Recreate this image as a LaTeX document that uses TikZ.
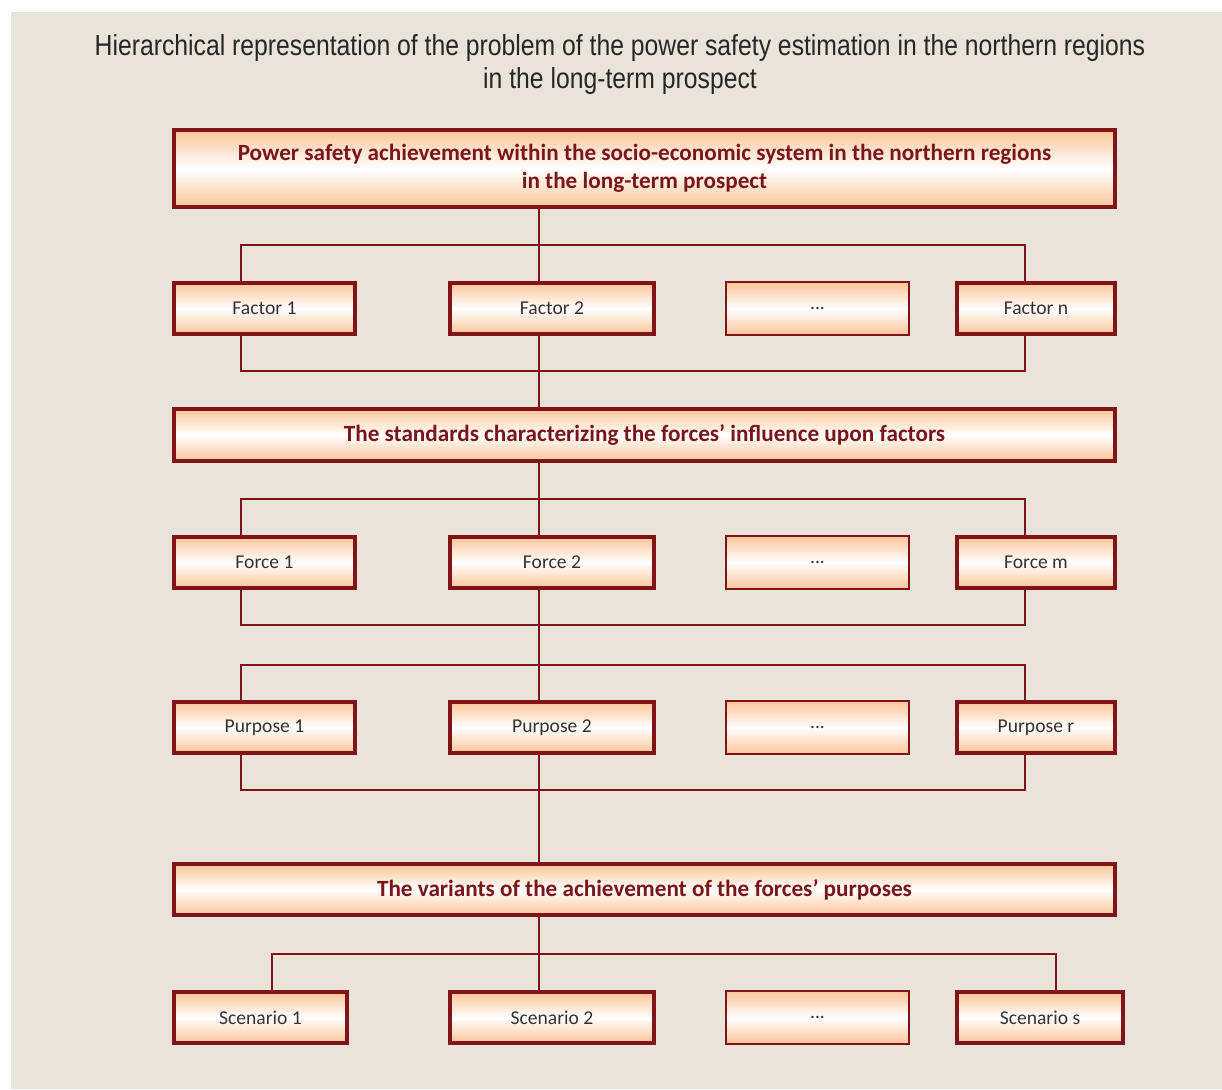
\documentclass[tikz,border=0pt]{standalone}
\usepackage{fontspec}
\setmainfont{Carlito}
\newfontfamily\headfont[FakeStretch=0.853]{Liberation Sans}
\usepackage{xcolor}
\definecolor{frame}{RGB}{128,20,24}
\definecolor{peach}{RGB}{251,196,152}
\definecolor{panel}{RGB}{234,227,218}
\definecolor{ink}{RGB}{51,51,51}
\definecolor{headred}{RGB}{122,22,26}

\begin{document}
\begin{tikzpicture}[x=0.5pt,y=-0.5pt,
  box/.style={draw=frame,line width=2pt,top color=peach,bottom color=peach,
              middle color=white,inner sep=0pt,text=ink,
              font=\fontsize{9.8}{12}\selectfont,minimum height=25.5pt},
  dots/.style={box,line width=1pt,minimum width=91.5pt,minimum height=26.5pt},
  wide/.style={box,minimum width=470.5pt,align=center,text=headred,
               font=\bfseries\fontsize{11.6}{14}\selectfont},
  title/.style={align=center,text=black!85,
                font=\headfont\fontsize{14.5}{16.5}\selectfont},
  link/.style={draw=frame,line width=0.8pt}]
  \useasboundingbox (0,0) rectangle (1222,1089);
  \fill[white] (0,0) rectangle (1222,1089);
  \fill[panel] (11,12) rectangle (1222,1089);

  \node[title] (head) at (620,64.5) {Hierarchical representation of the problem of the power safety estimation in the northern regions\\in the long-term prospect};

  % goal
  \node[wide,minimum height=38.5pt] (goal) at (644.5,168.5) {Power safety achievement within the socio-economic system in the northern regions\\in the long-term prospect};

  % factors
  \node[box,minimum width=90.5pt] (f1) at (264.5,308.5) {Factor 1};
  \node[box,minimum width=102pt]  (f2) at (552,308.5)   {Factor 2};
  \node[dots]                     (fd) at (817.5,308.5) {...};
  \node[box,minimum width=79pt]   (fn) at (1036,308.5)  {Factor n};

  \node[wide,minimum height=26pt] (std) at (644.5,435) {The standards characterizing the forces’ influence upon factors};

  % forces
  \node[box,minimum width=90.5pt] (fo1) at (264.5,562.5) {Force 1};
  \node[box,minimum width=102pt]  (fo2) at (552,562.5)   {Force 2};
  \node[dots]                     (fod) at (817.5,562.5) {...};
  \node[box,minimum width=79pt]   (fom) at (1036,562.5)  {Force m};

  % purposes
  \node[box,minimum width=90.5pt] (p1) at (264.5,727.5) {Purpose 1};
  \node[box,minimum width=102pt]  (p2) at (552,727.5)   {Purpose 2};
  \node[dots]                     (pd) at (817.5,727.5) {...};
  \node[box,minimum width=79pt]   (pr) at (1036,727.5)  {Purpose r};

  \node[wide,minimum height=25.5pt] (var) at (644.5,889.5) {The variants of the achievement of the forces’ purposes};

  % scenarios
  \node[box,minimum width=86.5pt] (s1) at (260.5,1017.5) {Scenario 1};
  \node[box,minimum width=102pt]  (s2) at (552,1017.5)   {Scenario 2};
  \node[dots]                     (sd) at (817.5,1017.5) {...};
  \node[box,minimum width=83pt]   (ss) at (1040,1017.5)  {Scenario s};

  \coordinate (spine) at (539,0);
  \coordinate (lcol) at (241,0);
  \coordinate (rcol) at (1025,0);
  \coordinate (lcol2) at (272,0);
  \coordinate (rcol2) at (1056,0);

  \draw[link] (goal.south -| spine) -- (f2.north -| spine);
  \draw[link] (f1.north -| lcol) -- ++(0,-36) -| (fn.north -| rcol);
  \draw[link] (f1.south -| lcol) -- ++(0,35) -| (fn.south -| rcol);
  \draw[link] (f2.south -| spine) -- (std.north -| spine);
  \draw[link] (std.south -| spine) -- (fo2.north -| spine);
  \draw[link] (fo1.north -| lcol) -- ++(0,-36) -| (fom.north -| rcol);
  \draw[link] (fo1.south -| lcol) -- ++(0,35) -| (fom.south -| rcol);
  \draw[link] (fo2.south -| spine) -- (p2.north -| spine);
  \draw[link] (p1.north -| lcol) -- ++(0,-35) -| (pr.north -| rcol);
  \draw[link] (p1.south -| lcol) -- ++(0,35) -| (pr.south -| rcol);
  \draw[link] (p2.south -| spine) -- (var.north -| spine);
  \draw[link] (var.south -| spine) -- (s2.north -| spine);
  \draw[link] (s1.north -| lcol2) -- ++(0,-36) -| (ss.north -| rcol2);
\end{tikzpicture}
\end{document}
